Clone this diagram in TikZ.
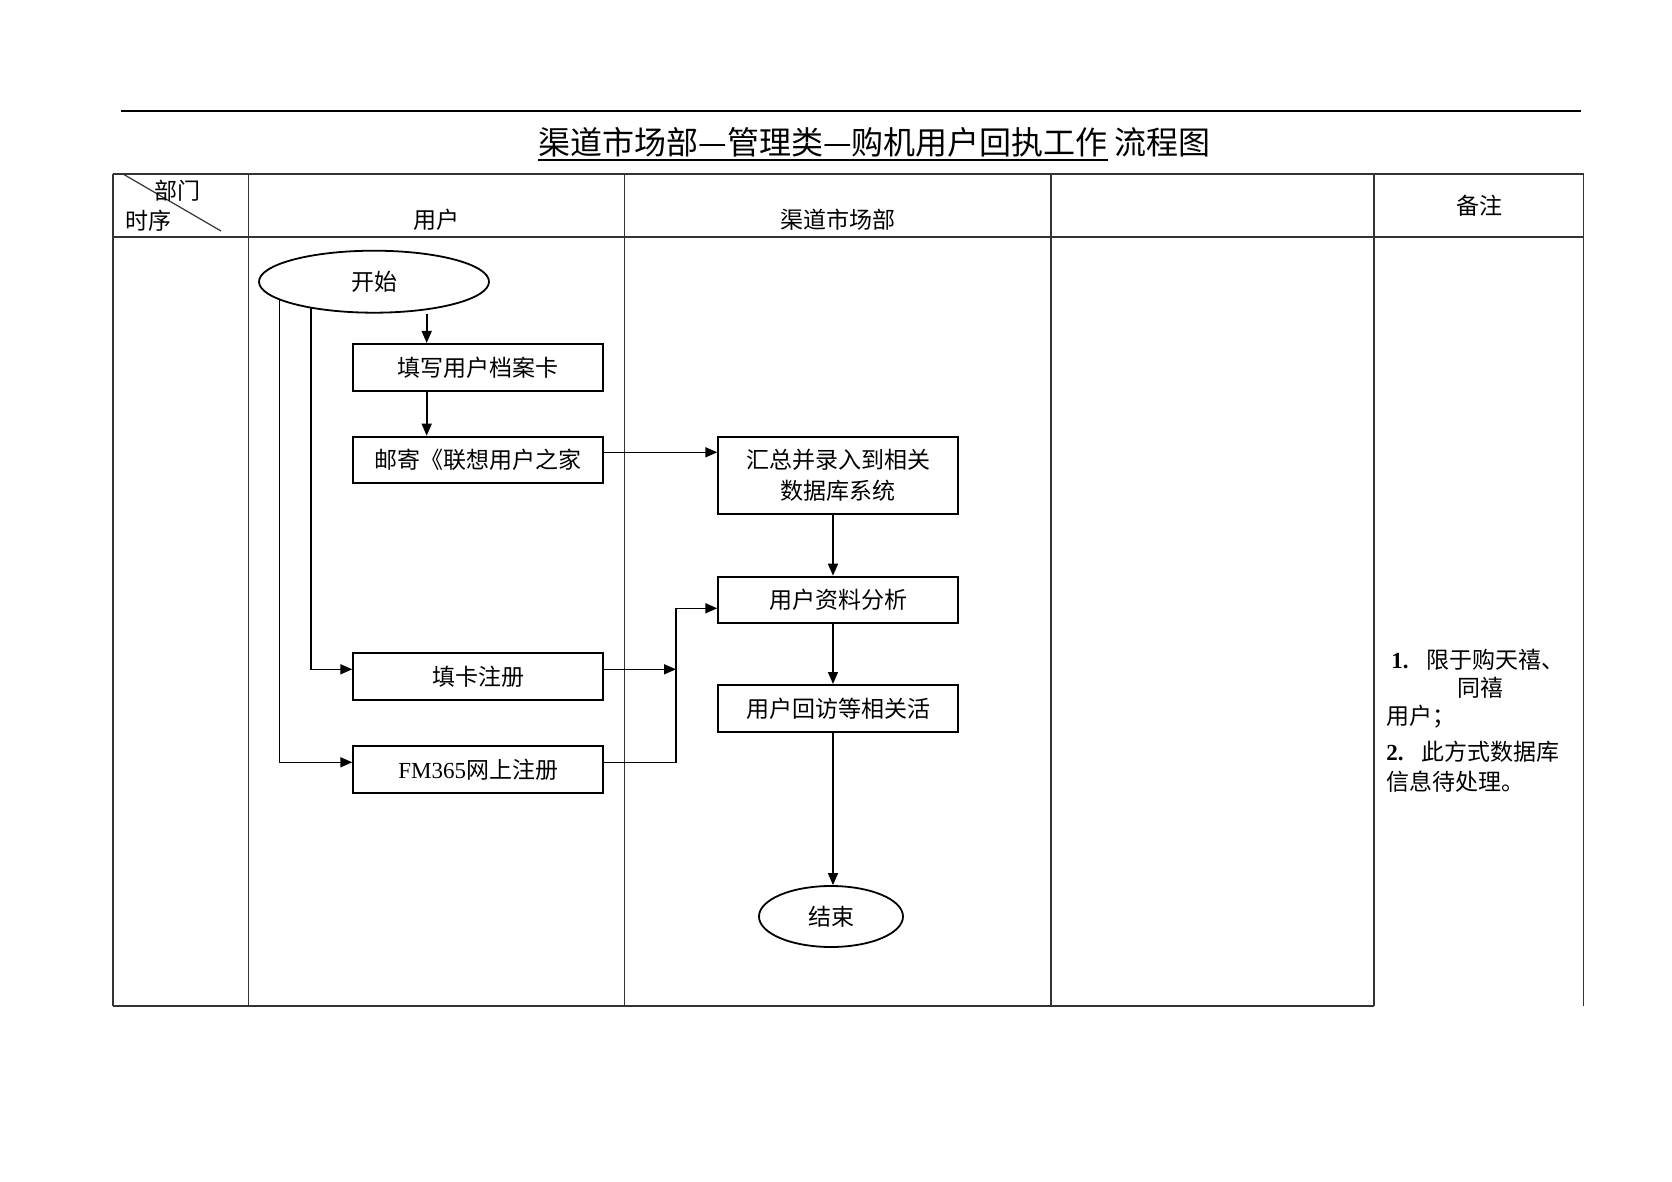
\documentclass[tikz,border=0pt]{standalone}
\usepackage{fontspec}
\setmainfont{Liberation Serif}
\newfontfamily\cjk{Noto Sans CJK SC}
\usetikzlibrary{shapes.geometric,arrows.meta}
\newcommand\nodefsz{\fontsize{11.5}{15.3}\selectfont}
\newcommand\titlefsz{\fontsize{16}{18}\selectfont}
\begin{document}
\begin{tikzpicture}[x=0.5pt,y=-0.5pt,
  every node/.style={font=\nodefsz\cjk,inner sep=0pt},
  box/.style={draw,line width=1pt,minimum width=125pt,minimum height=23.3pt,align=center},
  term/.style={draw,ellipse,line width=0.9pt},
  arr/.style={line width=0.8pt,-{Triangle[length=6pt,width=5pt]}},
  tline/.style={line width=0.6pt,draw=black!80},
  plain/.style={line width=0.8pt},
  ]
\useasboundingbox (0,0) rectangle (1672,1182);
% top rule and title
\draw[line width=1pt] (121,111) -- (1581,111);
\node[anchor=west,font=\titlefsz\cjk] (t1) at (538,142) {渠道市场部—管理类—购机用户回执工作};
\node[anchor=west,font=\titlefsz\cjk] (t2) at ([xshift=3pt]t1.east) {流程图};
\draw[line width=1.2pt] (t1.west |- 0,160) -- (t1.east |- 0,160);
% table
\draw[tline] (113,174) -- (1583.5,174);
\draw[tline] (113,237) -- (1583.5,237);
\draw[tline] (113,1006) -- (1374,1006);
\foreach \xx in {113,248.5,624.5,1051,1374,1583.5}{\draw[tline] (\xx,174) -- (\xx,1006);}
\draw[tline] (123,174) -- (221,231);
\node (hdept) at (177,191) {部门};
\node (horder) at (148,221) {时序};
\node (huser) at (436,220) {用户};
\node (hchan) at (838,220) {渠道市场部};
\node (hnote) at (1479,206) {备注};
% flow nodes
\node[term,minimum width=115pt,minimum height=31pt] (start) at (374,281.7) {开始};
\node[box] (b1) at (478.3,367.3) {填写用户档案卡};
\node[box] (b2) at (478.3,460) {邮寄《联想用户之家};
\node[box] (b3) at (478.3,676.5) {填卡注册};
\node[box] (b4) at (478.3,769.3) {{\rmfamily FM365}网上注册};
\node[box,minimum width=120pt,minimum height=38.9pt] (c1) at (838.3,475.5) {汇总并录入到相关\\数据库系统};
\node[box,minimum width=120pt,minimum height=23pt] (c2) at (838.3,599.7) {用户资料分析};
\node[box,minimum width=120pt,minimum height=23.3pt] (c3) at (838.3,708.3) {用户回访等相关活};
\node[term,minimum width=72pt,minimum height=30.5pt] (end) at (831,916.5) {结束};
% helper coordinates
\coordinate (xa) at (426.7,0);
\coordinate (xc) at (833,0);
\coordinate (jn) at (676,608.3);
% connectors
\draw[arr] (start.south -| xa) -- (b1.north -| xa);
\draw[arr] (b1.south -| xa) -- (b2.north -| xa);
\draw[arr] ([yshift=3.85pt]b2.east) coordinate (p) -- (p -| c1.west);
\draw[arr] (start.191) |- ([yshift=3.5pt]b4.west);
\draw[arr] (start.203) |- ([yshift=3.6pt]b3.west);
\draw[arr] ([yshift=3.6pt]b3.east) coordinate (q) -- (q -| jn);
\draw[arr] ([yshift=3.5pt]b4.east) -| (jn) -- (jn -| c2.west);
\draw[arr] (c1.south -| xc) -- (c2.north -| xc);
\draw[arr] (c2.south -| xc) -- (c3.north -| xc);
\draw[arr] (c3.south -| xc) -- (end.north -| xc);
% remarks
\node[anchor=west] (r1) at (1391,660) {{\rmfamily\bfseries 1.}\hspace{9pt}限于购天禧、};
\node (r2) at (1480,688) {同禧};
\node[anchor=west] (r3) at (1386,717) {用户；};
\node[anchor=west] (r4) at (1386,752) {{\rmfamily\bfseries 2.}\hspace{9pt}此方式数据库};
\node[anchor=west] (r5) at (1386,782) {信息待处理。};
\end{tikzpicture}
\end{document}
